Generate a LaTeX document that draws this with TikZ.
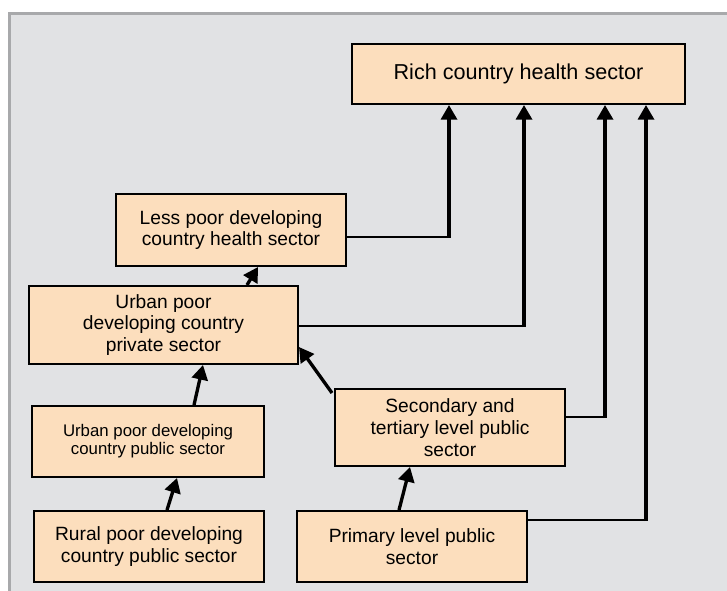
\documentclass[tikz,border=0pt]{standalone}
\usepackage{fontspec}
\setmainfont{Liberation Sans}
\usetikzlibrary{arrows.meta,calc}
\definecolor{boxfill}{HTML}{FCDEBD}
\definecolor{panel}{HTML}{E1E2E4}
\definecolor{rim}{HTML}{A8A9AB}
\begin{document}
\begin{tikzpicture}[x=0.75pt,y=-0.75pt]
	\tikzset{>={Triangle[length=11pt,width=12pt]}}
	\tikzset{sect/.style={draw,line width=1.5pt,fill=boxfill,align=center,inner sep=0pt,
		font=\fontsize{14.4}{16.3}\selectfont}}
	\tikzset{feed/.style={->,line width=2.5pt}}
	\tikzset{link/.style={line width=1.5pt}}
	\useasboundingbox (0,0) rectangle (727,591);
	\fill [white] (0,0) rectangle (727,591);
	\fill [panel] (8,12) rectangle (727,591);
	\draw [rim,line width=2.25pt] (9.5,591) -- (9.5,13.5) -- (727,13.5);
	% boxes
	\node [sect,minimum width=249.75pt,minimum height=45pt,font=\fontsize{16.2}{18}\selectfont] (rich) at (518.5,74) {Rich country health sector};
	\node [sect,minimum width=172.5pt,minimum height=54pt] (lesspoor) at (231,230) {Less poor developing\\country health sector};
	\node [sect,minimum width=201.75pt,minimum height=58.5pt] (urbpriv) at (163.5,325) {Urban poor\\developing country\\private sector};
	\node [sect,minimum width=174pt,minimum height=53.25pt,font=\fontsize{12.6}{13.7}\selectfont] (urbpub) at (148,441.5) {Urban poor developing\\country public sector};
	\node [sect,minimum width=172.5pt,minimum height=53.25pt] (rural) at (149,546.5) {Rural poor developing\\country public sector};
	\node [sect,minimum width=172.5pt,minimum height=57.75pt] (second) at (450,427.5) {Secondary and\\tertiary level public\\sector};
	\node [sect,minimum width=172.5pt,minimum height=53.25pt] (primary) at (412,546.5) {Primary level public\\sector};
	% arrows between boxes
	\draw [feed] ($(urbpriv.north)+(83.5,0)$) -- ($(lesspoor.south)+(27,0)$);
	\draw [feed] ($(urbpub.north)+(46,0)$) -- ($(urbpriv.south)+(39.5,0)$);
	\draw [feed] ($(rural.north)+(18,0)$) -- ($(urbpub.south)+(29,0)$);
	\draw [feed] ($(primary.north)+(-13,0)$) -- ($(second.south)+(-40,0)$);
	\draw [feed] ($(second.north west)+(-2,5)$) -- ($(urbpriv.east)+(0,22)$);
	% links up to the rich country sector
	\coordinate (c1) at (449,237);
	\coordinate (c2) at (524,326);
	\coordinate (c3) at (605,417);
	\coordinate (c4) at (646,520);
	\draw [link] (lesspoor.east |- c1) -- (c1);
	\draw [link] (urbpriv.east |- c2) -- (c2);
	\draw [link] (second.east |- c3) -- (c3);
	\draw [link] (primary.east |- c4) -- (c4);
	\draw [feed] ($(c1)+(0,1)$) -- (rich.south -| c1);
	\draw [feed] ($(c2)+(0,1)$) -- (rich.south -| c2);
	\draw [feed] ($(c3)+(0,1)$) -- (rich.south -| c3);
	\draw [feed] ($(c4)+(0,1)$) -- (rich.south -| c4);
\end{tikzpicture}
\end{document}
